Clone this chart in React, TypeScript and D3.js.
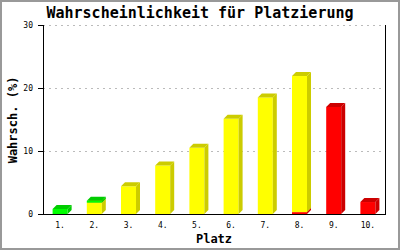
import React from "react";
import * as d3 from "d3";

const categories = ["1.", "2.", "3.", "4.", "5.", "6.", "7.", "8.", "9.", "10."];
const redValues = [0, 0, 0, 0, 0, 0, 0, 0.3, 17.0, 1.9];
const yellowValues = [0, 1.8, 4.4, 7.7, 10.5, 15.1, 18.5, 21.6, 0, 0];
const greenValues = [0.8, 0.3, 0, 0, 0, 0, 0, 0, 0, 0];
const yTicks = [0, 10, 20, 30];

const seriesList = [
  { key: "red", values: redValues, front: "#ff0000", dark: "#cc0000" },
  { key: "yellow", values: yellowValues, front: "#ffff00", dark: "#cccc00" },
  { key: "green", values: greenValues, front: "#00ff00", dark: "#00cc00" },
];

const W = 400, H = 250;
const left = 43, right = 385, top = 25, bottom = 214;
const DX = 4, DY = 4;
const MONO = "'DejaVu Sans Mono', 'Liberation Mono', monospace";

export default function App() {
  const x = d3.scaleBand<string>().domain(categories).range([left, right]);
  const y = d3.scaleLinear().domain([0, 30]).range([bottom, top]);
  const half = 7.5;

  const bars: React.ReactNode[] = [];
  categories.forEach((c, i) => {
    const cx = (x(c) as number) + x.bandwidth() / 2;
    const x0 = cx - half, x1 = cx + half;
    let acc = 0;
    seriesList.forEach((s) => {
      const v = s.values[i];
      if (v <= 0) return;
      const yb = y(acc), yt = y(acc + v);
      acc += v;
      bars.push(
        <g key={c + s.key}>
          <rect x={x0} y={yt} width={x1 - x0} height={yb - yt} fill={s.front} />
          <polygon
            points={`${x1},${yb} ${x1 + DX},${yb - DY} ${x1 + DX},${yt - DY} ${x1},${yt}`}
            fill={s.dark}
          />
          <polygon
            points={`${x0},${yt} ${x0 + DX},${yt - DY} ${x1 + DX},${yt - DY} ${x1},${yt}`}
            fill={s.dark}
          />
        </g>
      );
    });
  });

  return (
    <svg width={W} height={H} style={{ position: "absolute", left: 0, top: 0, display: "block", background: "#fff" }}>
      <rect x={1} y={1} width={W - 2} height={H - 2} fill="#fff" stroke="#999" strokeWidth={2} />
      <text x={200} y={18} textAnchor="middle" fontFamily={MONO} fontWeight="bold" fontSize={15} fill="#000">
        Wahrscheinlichkeit für Platzierung
      </text>
      {yTicks.filter((t) => t > 0).map((t) => (
        <line key={"g" + t} x1={left} x2={right} y1={y(t) + 0.5} y2={y(t) + 0.5} stroke="#bbb" strokeDasharray="2,4" />
      ))}
      {bars}
      <line x1={left + 0.5} x2={left + 0.5} y1={top} y2={bottom + 1} stroke="#000" />
      <line x1={right + 0.5} x2={right + 0.5} y1={top} y2={bottom + 1} stroke="#000" />
      <line x1={left} x2={right + 1} y1={bottom + 0.5} y2={bottom + 0.5} stroke="#000" />
      {yTicks.map((t) => (
        <g key={"t" + t}>
          <line x1={38} x2={left} y1={y(t) + 0.5} y2={y(t) + 0.5} stroke="#000" />
          <text x={33} y={y(t) + 3} textAnchor="end" fontFamily={MONO} fontSize={8} fill="#000">
            {t}
          </text>
        </g>
      ))}
      {categories.map((c) => (
        <text key={"x" + c} x={(x(c) as number) + x.bandwidth() / 2} y={227.5} textAnchor="middle" fontFamily={MONO} fontSize={8} fill="#000">
          {c}
        </text>
      ))}
      <text x={214} y={243} textAnchor="middle" fontFamily={MONO} fontWeight="bold" fontSize={12} fill="#000">
        Platz
      </text>
      <text transform="translate(17,120) rotate(-90)" textAnchor="middle" fontFamily={MONO} fontWeight="bold" fontSize={12} fill="#000">
        Wahrsch. (%)
      </text>
    </svg>
  );
}
